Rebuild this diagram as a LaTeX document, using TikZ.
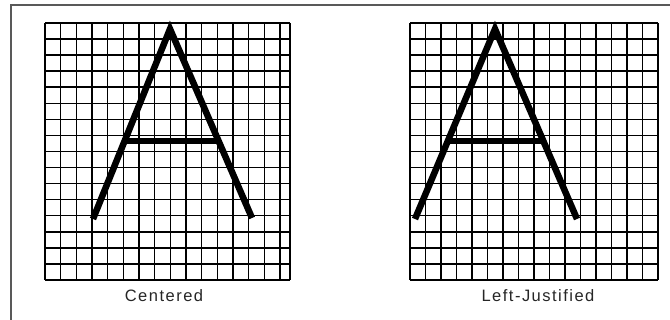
\documentclass[tikz,border=0pt]{standalone}
\usepackage{fontspec}
\setmainfont{Liberation Sans}[LetterSpace=9]
\begin{document}
\begin{tikzpicture}[x=1pt,y=-1pt,
  gridline/.style={line width=1.5pt,draw=black},
  letterstroke/.style={line width=6.5pt,line join=miter,line cap=butt,draw=black},
  frameline/.style={line width=1.6pt,draw=black!65},
  caption/.style={font=\fontsize{16.5}{19}\selectfont,text=black!85,inner sep=0pt,anchor=base}]
\useasboundingbox (0,0) rectangle (670,320);
\fill[white] (0,0) rectangle (670,320);
% frame (only top and left edges visible)
\draw[frameline] (11,320) -- (11,5) -- (670,5);
% left grid
\foreach \i in {0,...,15} \draw[gridline] ({45+\i*15.67},23) -- ({45+\i*15.67},280);
\draw[gridline] (290,23) -- (290,280);
\foreach \j in {0,...,16} \draw[gridline] (45,{23+\j*16.06}) -- (290,{23+\j*16.06});
% right grid
\foreach \i in {0,...,16} \draw[gridline] ({410+\i*15.5},23) -- ({410+\i*15.5},280);
\foreach \j in {0,...,16} \draw[gridline] (410,{23+\j*16.06}) -- (658,{23+\j*16.06});
% centered A
\coordinate (la1) at (93,219);
\coordinate (lap) at (170,29);
\coordinate (la2) at (252,218);
\draw[letterstroke] (la1) -- (lap) -- (la2);
\coordinate (lb1) at (124.5,141);
\coordinate (lb2) at (218.6,141);
\draw[letterstroke] (lb1) -- (lb2);
% left-justified A
\coordinate (ra1) at (415,219);
\coordinate (rap) at (495,29);
\coordinate (ra2) at (577,219);
\draw[letterstroke] (ra1) -- (rap) -- (ra2);
\coordinate (rb1) at (447.8,141);
\coordinate (rb2) at (543.4,141);
\draw[letterstroke] (rb1) -- (rb2);
% captions
\node[caption] (capleft) at (164,302) {Centered};
\node[caption] (capright) at (538,302) {Left-Justified};
\end{tikzpicture}
\end{document}
